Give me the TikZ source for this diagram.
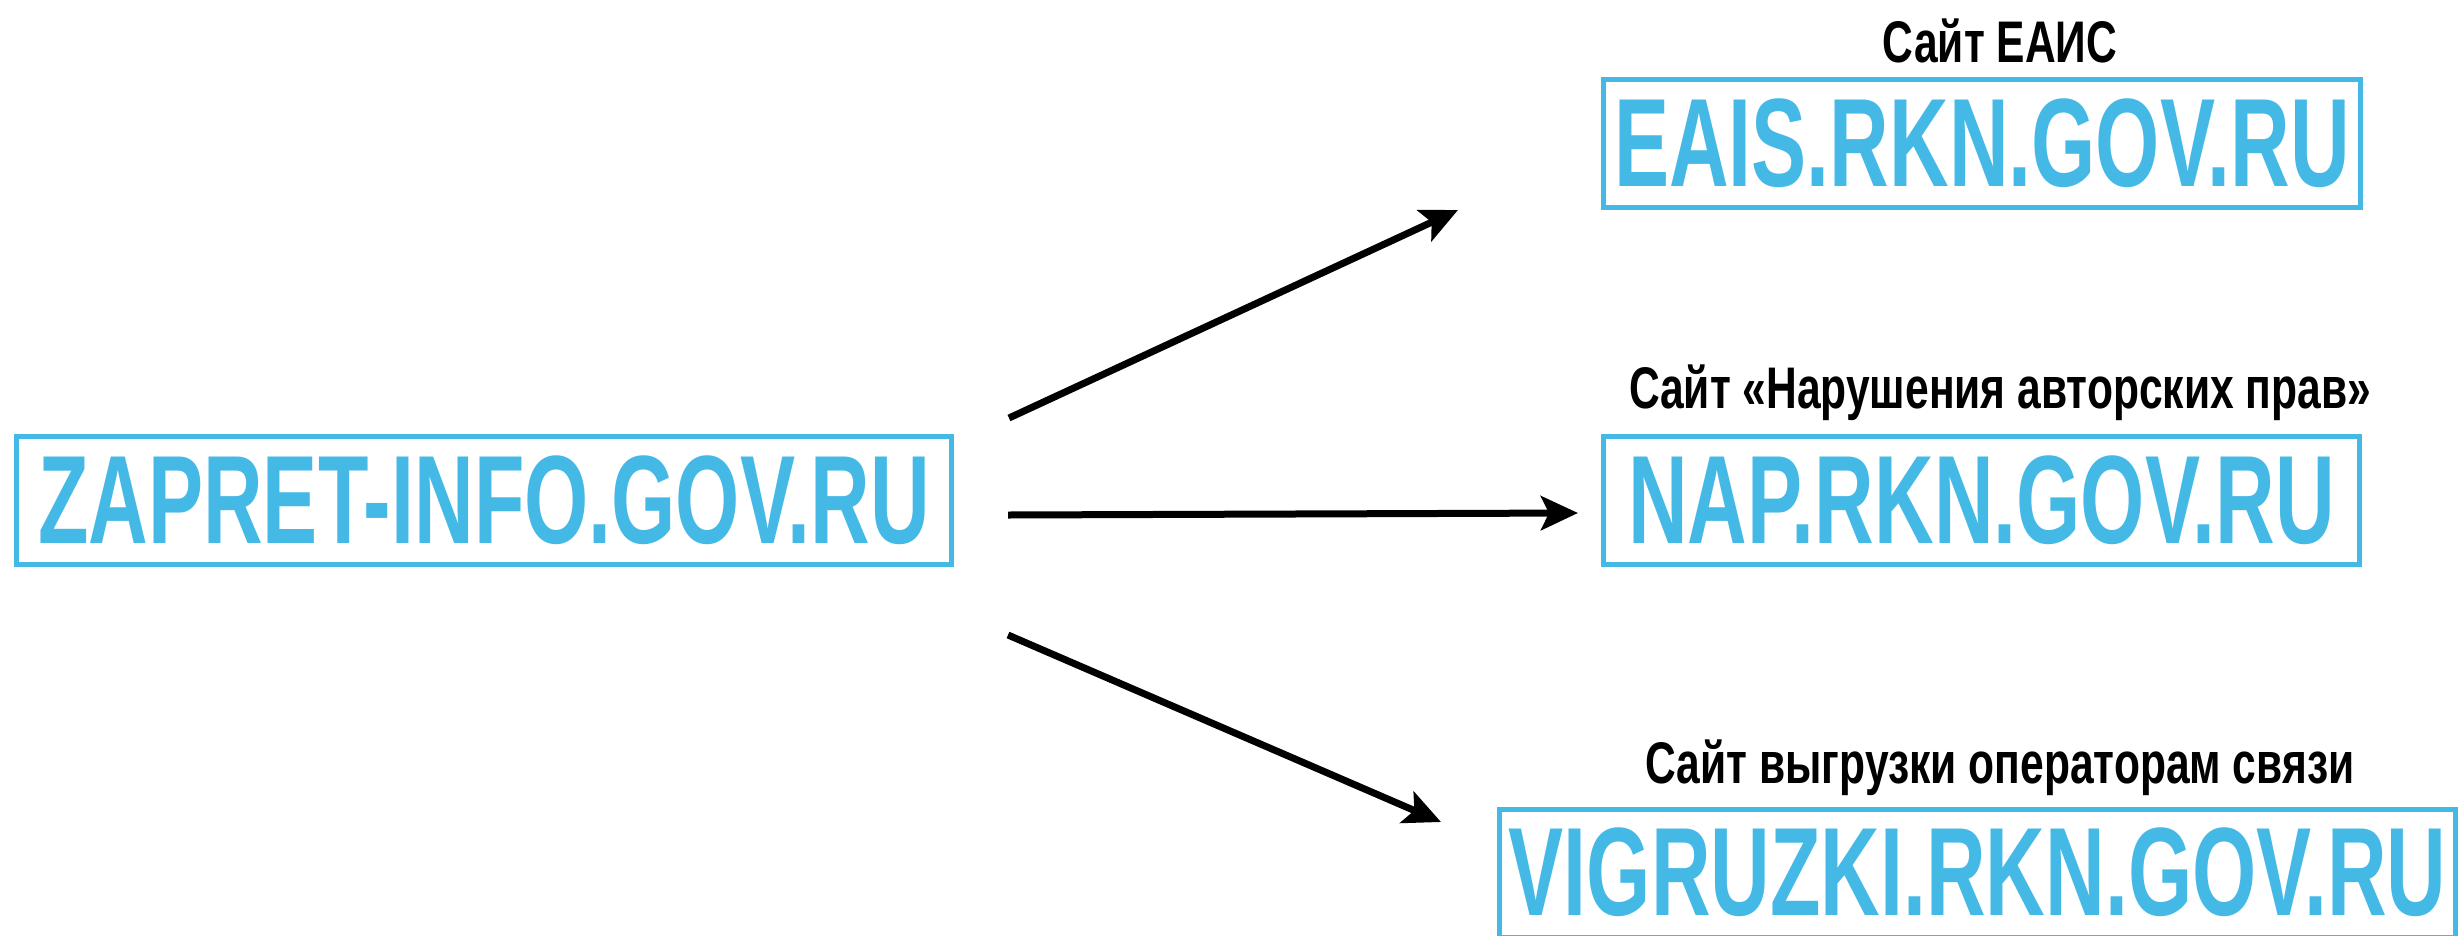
\documentclass[tikz,border=0pt]{standalone}
\usepackage{fontspec}
\setmainfont{Liberation Sans}
\newfontfamily\urlfont[FakeStretch=0.657]{Liberation Sans Bold}
\newfontfamily\labfont[FakeStretch=0.725]{Liberation Sans Bold}
\usetikzlibrary{arrows.meta}
\definecolor{skyb}{RGB}{69,185,230}
\tikzset{
  urlbox/.style={draw=skyb, line width=5pt, text=skyb, inner sep=0pt,
    minimum height=128pt, font=\urlfont\fontsize{125.7}{130}\selectfont},
  urltext/.style={text=skyb, inner sep=0pt,
    font=\urlfont\fontsize{125.7}{130}\selectfont},
  sitelabel/.style={anchor=base, inner sep=0pt, text=black,
    font=\labfont\fontsize{58.7}{62}\selectfont},
  pointer/.style={line width=7pt, black,
    -{Stealth[length=37pt, width=34pt, inset=8pt]}}
}
\begin{document}
\begin{tikzpicture}[x=1pt, y=-1pt]
\useasboundingbox (0,0) rectangle (2460,935);
\clip (0,0) rectangle (2460,935);
\node[urlbox, minimum width=935pt] (zap) at (484,500.5) {ZAPRET-INFO.GOV.RU};
\node[urlbox, minimum width=757pt] (eais) at (1982,143) {EAIS.RKN.GOV.RU};
\node[urlbox, minimum width=756pt] (nap) at (1981.5,500.5) {NAP.RKN.GOV.RU};
\node[urlbox, minimum width=956pt] (vigframe) at (1977.5,873.5) {};
\node[urltext] (vig) at (1977.5,872) {VIGRUZKI.RKN.GOV.RU};
\node[sitelabel] (leais) at (2000,62) {Сайт ЕАИС};
\node[sitelabel] (lnap) at (2000,408) {Сайт «Нарушения авторских прав»};
\node[sitelabel] (lvig) at (2000,783) {Сайт выгрузки операторам связи};
\coordinate (s1) at (1009,418);
\coordinate (s2) at (1008,515);
\coordinate (s3) at (1008,635);
\coordinate (t1) at (1458,210);
\coordinate (t2) at (1578,513);
\coordinate (t3) at (1441,822);
\draw[pointer] (s1) -- (t1);
\draw[pointer] (s2) -- (t2);
\draw[pointer] (s3) -- (t3);
\end{tikzpicture}
\end{document}
